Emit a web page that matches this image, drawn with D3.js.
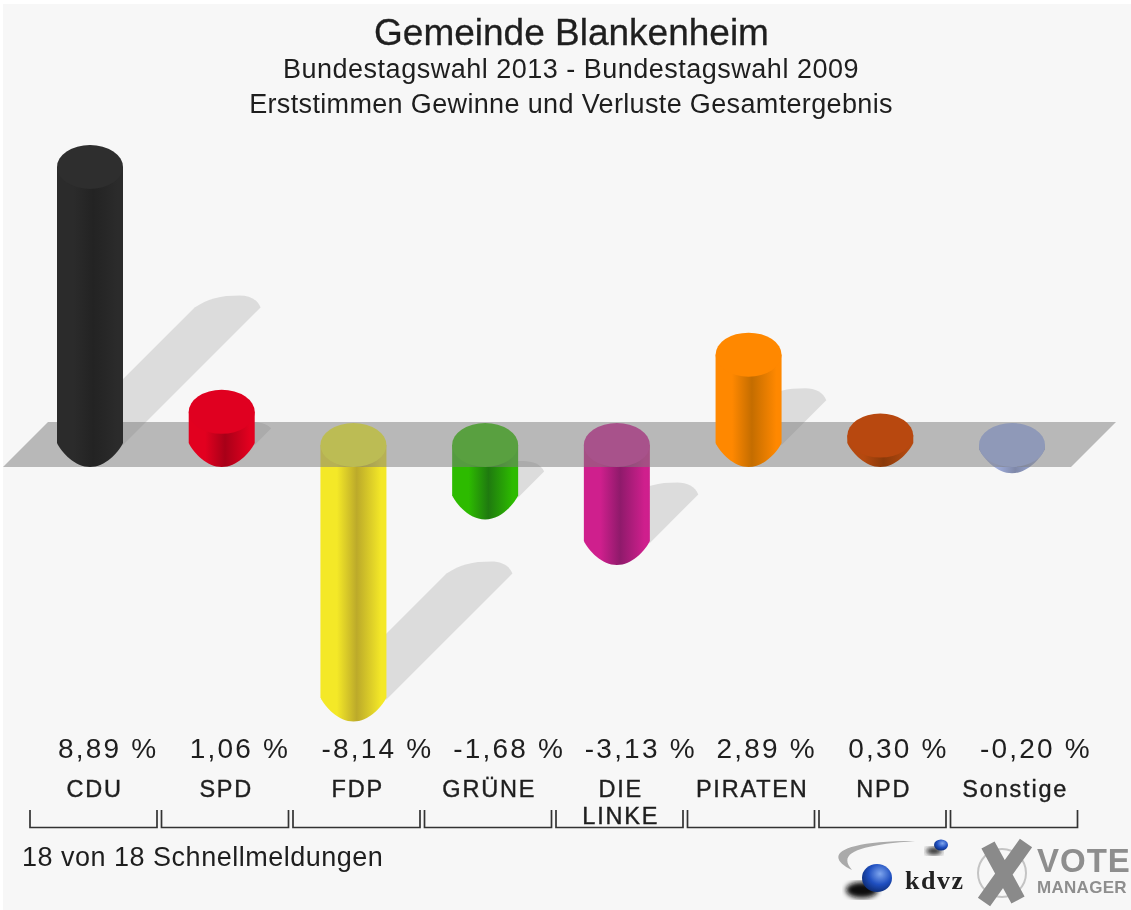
<!DOCTYPE html>
<html><head><meta charset="utf-8">
<script src="https://cdnjs.cloudflare.com/ajax/libs/d3/7.8.5/d3.min.js"></script>
<style>html,body{margin:0;padding:0;background:#fff;overflow:hidden}svg{display:block}
text{font-family:"Liberation Sans",Arial,sans-serif;fill:#1e1e1e}</style></head><body>
<script>
const parties = ["CDU","SPD","FDP","GRÜNE","DIE LINKE","PIRATEN","NPD","Sonstige"];
const values = [8.89,1.06,-8.14,-1.68,-3.13,2.89,0.30,-0.20];
const valueLabels = ["8,89 %","1,06 %","-8,14 %","-1,68 %","-3,13 %","2,89 %","0,30 %","-0,20 %"];
const edgeColors = ["#2b2b2b","#e2001f","#f4e827","#2dbb00","#cf1f8d","#ff8800","#b5490f","#a2b0e0"];
const midColors = ["#232323","#a80018","#bcaa2a","#1f7a0f","#8f1a6b","#c46d00","#8a3a0a","#7f88a8"];
const capColors = ["#2e2e2e","#e00020","#ffff2b","#35c500","#d6269a","#ff8800","#b8480f","#a2b7f7"];
const titleLines = ["Gemeinde Blankenheim","Bundestagswahl 2013 - Bundestagswahl 2009","Erststimmen Gewinne und Verluste Gesamtergebnis"];
const footer = "18 von 18 Schnellmeldungen";

const W=1131,H=910, rx=33, ry=22;
const svg=d3.select("body").append("svg").attr("width",W).attr("height",H);
const defs=svg.append("defs");
const x=d3.scalePoint().domain(parties).range([90,1012]);
const y=d3.scaleLinear().domain([0,8.89]).range([445,167]);
const bx=d3.scaleBand().domain(parties).range([28,1080]);

svg.append("rect").attr("x",3).attr("y",4).attr("width",W-3).attr("height",H-4).attr("fill","#f7f7f7");

parties.forEach((p,i)=>{
  const g=defs.append("linearGradient").attr("id","g"+i);
  g.append("stop").attr("offset","0%").attr("stop-color",edgeColors[i]);
  g.append("stop").attr("offset","25%").attr("stop-color",edgeColors[i]);
  g.append("stop").attr("offset","55%").attr("stop-color",midColors[i]);
  g.append("stop").attr("offset","92%").attr("stop-color",edgeColors[i]);
});
const data=parties.map((p,i)=>({p,i,v:values[i],cx:x(p),top:Math.min(y(values[i]),y(0)),bot:Math.max(y(values[i]),y(0))}));

// shadows (only tall enough bars cast a visible one)
const sk=0.495;
function shadowPath(d){
  const h=d.bot-d.top, ex=d.cx+h*sk, ey=d.bot-h*sk, c=Math.min(12,h*0.2);
  return `M${d.cx-rx},${d.bot}L${ex-rx},${ey}C${ex-rx+14},${ey-c*0.75} ${ex-8},${ey-c} ${ex+12},${ey-c}C${ex+22},${ey-c} ${ex+30},${ey-c*0.67} ${ex+rx},${ey}L${d.cx+rx},${d.bot}Z`;
}
svg.append("g").selectAll("path").data(data.filter(d=>d.bot-d.top>20)).join("path").attr("d",shadowPath).attr("fill","#000").attr("fill-opacity",0.105);

function body(d){
  return `M${d.cx-rx},${d.top}L${d.cx-rx},${d.bot-2}C${d.cx-rx+5},${d.bot+8} ${d.cx-15},${d.bot+ry} ${d.cx},${d.bot+ry}C${d.cx+15},${d.bot+ry} ${d.cx+rx-5},${d.bot+8} ${d.cx+rx},${d.bot-2}L${d.cx+rx},${d.top}Z`;
}
function drawBars(sel){
  const g=svg.append("g").selectAll("g").data(sel).join("g");
  g.append("path").attr("d",body).attr("fill",d=>`url(#g${d.i})`);
  g.append("ellipse").attr("cx",d=>d.cx).attr("cy",d=>d.top).attr("rx",rx).attr("ry",ry).attr("fill",d=>capColors[d.i]);
}
drawBars(data.filter(d=>d.v<0));
// zero plane
const y0=y(0);
svg.append("path").attr("d",`M3,${y0+22}L48,${y0-23}L1116,${y0-23}L1071,${y0+22}Z`).attr("fill","#7d7d7d").attr("fill-opacity",0.515);
drawBars(data.filter(d=>d.v>=0));

// text
const tg=svg.append("g").style("filter","blur(0.5px)");
const titleStyle=[[571.5,45,37,0,0.3],[571,78,27,0.5,0],[571,113,27,0.35,0]];
titleLines.forEach((t,i)=>{
  tg.append("text").attr("x",titleStyle[i][0]).attr("y",titleStyle[i][1]).attr("text-anchor","middle")
    .attr("font-size",titleStyle[i][2]).attr("letter-spacing",titleStyle[i][3])
    .attr("stroke","#1e1e1e").attr("stroke-width",titleStyle[i][4]).text(t);
});
tg.selectAll(".val").data(data).join("text").attr("class","val").attr("x",d=>d.cx-32).attr("y",758)
  .attr("font-size",28).attr("letter-spacing",2.2).text(d=>valueLabels[d.i]);
tg.selectAll(".lab").data(data).join("text").attr("class","lab").attr("text-anchor","middle")
  .attr("font-size",23.5).attr("letter-spacing",1.8).attr("stroke","#1e1e1e").attr("stroke-width",0.4)
  .each(function(d){
    const c=bx(d.p)+bx.bandwidth()/2+1;
    const words=d.p==="DIE LINKE"?["DIE","LINKE"]:[d.p];
    d3.select(this).selectAll("tspan").data(words).join("tspan").attr("x",c).attr("y",(w,j)=>797+j*27).text(w=>w);
  });
tg.append("text").attr("x",22).attr("y",866).attr("font-size",27).attr("letter-spacing",0.5).text(footer);

// brackets
svg.append("g").selectAll("path").data(data).join("path")
  .attr("d",d=>{const a=bx(d.p)+2,b=bx(d.p)+bx.bandwidth()-2.5;return `M${a},810V827.5H${b}V810`;})
  .attr("fill","none").attr("stroke","#333").attr("stroke-width",1.7);

// logos
const blue=defs.append("radialGradient").attr("id","sph").attr("cx","60%").attr("cy","35%").attr("r","70%");
blue.append("stop").attr("offset","0%").attr("stop-color","#7fa6ee");
blue.append("stop").attr("offset","55%").attr("stop-color","#1f4fc0");
blue.append("stop").attr("offset","100%").attr("stop-color","#0c2a70");
defs.append("filter").attr("id","sb").append("feGaussianBlur").attr("stdDeviation",2.5);
const lg=svg.append("g").style("filter","blur(0.6px)");
lg.append("path").attr("d","M852,870C826,858 832,841 915,841C862,845 836,852 852,870Z").attr("fill","#aaa");
lg.append("ellipse").attr("cx",934).attr("cy",851).attr("rx",8).attr("ry",3.5).attr("fill","#222").attr("filter","url(#sb)");
lg.append("ellipse").attr("cx",941).attr("cy",845).attr("rx",7).attr("ry",5.5).attr("fill","url(#sph)");
lg.append("ellipse").attr("cx",862).attr("cy",890).attr("rx",16).attr("ry",8).attr("fill","#111").attr("filter","url(#sb)");
lg.append("ellipse").attr("cx",877).attr("cy",878).attr("rx",15).attr("ry",14).attr("fill","url(#sph)");
lg.append("text").attr("x",905).attr("y",889).attr("font-size",26).attr("font-weight","bold").style("font-family","'Liberation Serif',serif").style("fill","#222").attr("letter-spacing",1.5).text("kdvz");
lg.append("circle").attr("cx",1002).attr("cy",873).attr("r",24).attr("fill","none").attr("stroke","#c4c4c4").attr("stroke-width",2);
lg.append("path").attr("d","M988,845L1018,900M1026,843L984,902").attr("stroke","#8a8a8a").attr("stroke-width",15).attr("fill","none");
lg.append("text").attr("x",1037).attr("y",872).attr("font-size",33).attr("font-weight","bold").style("fill","#8e8e8e").attr("letter-spacing",1).text("VOTE");
lg.append("text").attr("x",1037).attr("y",893).attr("font-size",17).attr("font-weight","bold").style("fill","#8e8e8e").attr("letter-spacing",0.3).text("MANAGER");
</script></body></html>
